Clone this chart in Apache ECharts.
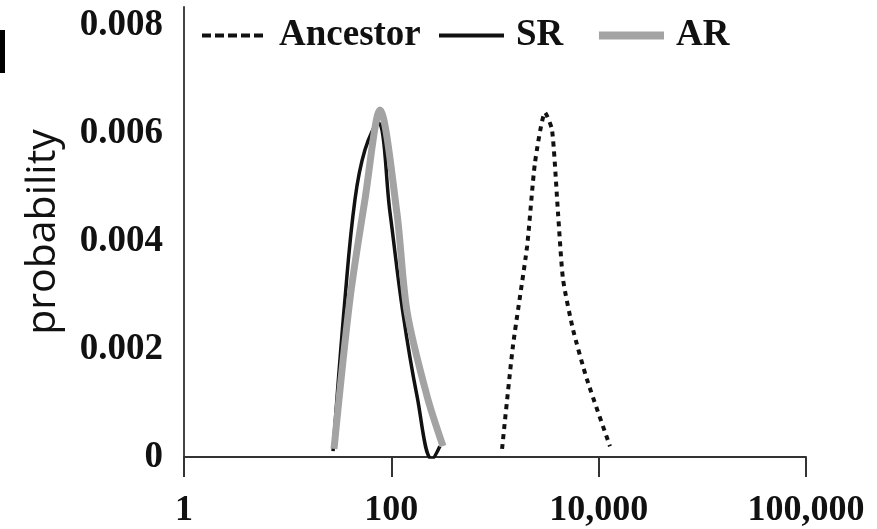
<!DOCTYPE html>
<html>
<head>
<meta charset="utf-8">
<script src="https://cdn.jsdelivr.net/npm/echarts@6/dist/echarts.min.js"></script>
<style>
  html, body { margin: 0; padding: 0; background: #fff; }
  #chart { width: 877px; height: 529px; }
</style>
</head>
<body>
<div id="chart"></div>
<script>
// values: [size, probability]
var ancestor = [
  [1170, 0.00015], [1490, 0.00206], [2040, 0.00391], [2430, 0.00546],
  [3040, 0.00639], [3550, 0.00607], [4050, 0.00454], [4530, 0.0033],
  [5650, 0.00237], [7710, 0.00144], [12850, 0.0002]
];
var sr = [
  [27.4, 0.00011], [35.7, 0.00293], [44.6, 0.00478], [55.7, 0.0057],
  [74.3, 0.0062], [97, 0.00454], [129, 0.00269], [177, 0.00113],
  [247, -0.00004], [294, 0.0002]
];
var ar = [
  [28, 0.00015], [39.9, 0.00293], [55.7, 0.00478], [77.8, 0.00644],
  [113, 0.00454], [142, 0.00269], [221, 0.00113], [315, 0.0002]
];
var xTickLabels = ["1", "100", "10,000", "100,000"];
var seriesNames = ["Ancestor", "SR", "AR"];

var serif = "'Liberation Serif', 'DejaVu Serif', serif";
var myChart = echarts.init(document.getElementById("chart"));

var legendText = {
  fontFamily: serif,
  fontWeight: "bold",
  fontSize: 37,
  color: "#111",
  padding: [0, 0, 0, 7]
};

// one legend per entry so each can sit where it is in the picture
function legendAt(name, left, lineStyle) {
  return {
    data: [name],
    left: left,
    top: 12,
    itemWidth: 65,
    itemHeight: 12,
    itemStyle: { opacity: 0 },
    lineStyle: lineStyle,
    textStyle: legendText
  };
}

var option = {
  backgroundColor: "#fff",
  animation: false,
  grid: {
    left: 184,
    right: 71,
    top: 7,
    bottom: 71
  },
  legend: [
    legendAt(seriesNames[0], 195, { width: 4, type: [9, 4] }),
    legendAt(seriesNames[1], 432, { width: 4 }),
    legendAt(seriesNames[2], 590, { width: 8 })
  ],
  xAxis: {
    type: "log",
    logBase: 100,
    min: 1,
    max: 1000000,
    splitLine: { show: false },
    minorTick: { show: false },
    axisLine: { lineStyle: { color: "#333", width: 2 } },
    axisTick: { length: 20, lineStyle: { color: "#333", width: 2 } },
    axisLabel: {
      margin: 36,
      fontFamily: serif,
      fontWeight: "bold",
      fontSize: 36,
      color: "#111",
      formatter: function (value, index) {
        return xTickLabels[index];
      }
    }
  },
  yAxis: {
    type: "value",
    min: 0,
    max: 0.00835,
    interval: 0.002,
    name: "probability",
    nameLocation: "middle",
    nameGap: 120,
    nameTextStyle: {
      fontFamily: "'Open Sans', 'Noto Sans', sans-serif",
      fontSize: 41,
      color: "#111"
    },
    splitLine: { show: false },
    axisTick: { show: false },
    axisLine: { show: true, lineStyle: { color: "#444", width: 2 } },
    axisLabel: {
      margin: 21,
      showMaxLabel: false,
      fontFamily: serif,
      fontWeight: "bold",
      fontSize: 37,
      color: "#111"
    }
  },
  series: [
    {
      name: seriesNames[0],
      type: "line",
      data: ancestor,
      symbol: "none",
      smooth: 0.2,
      lineStyle: { color: "#111", width: 4, type: [5, 5] },
      itemStyle: { color: "#111" }
    },
    {
      name: seriesNames[1],
      type: "line",
      data: sr,
      symbol: "none",
      smooth: 0.4,
      lineStyle: { color: "#111", width: 3.5 },
      itemStyle: { color: "#111" }
    },
    {
      name: seriesNames[2],
      type: "line",
      data: ar,
      symbol: "none",
      smooth: 0.3,
      lineStyle: { color: "#a3a3a3", width: 7 },
      itemStyle: { color: "#a3a3a3" }
    }
  ],
  graphic: [
    { type: "rect", left: 0, top: 30, shape: { width: 5, height: 43 }, style: { fill: "#000" } }
  ]
};

myChart.setOption(option);
</script>
</body>
</html>
